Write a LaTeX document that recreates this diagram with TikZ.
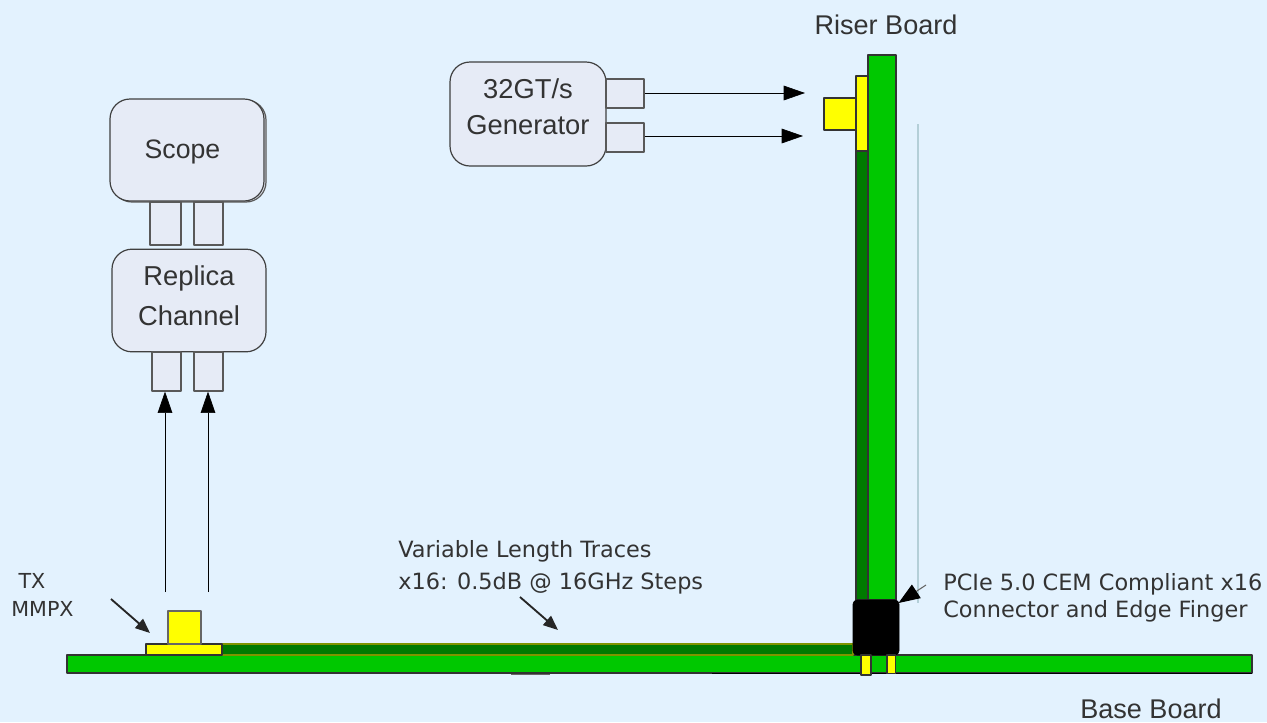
\documentclass[tikz,border=0pt]{standalone}
\usepackage{fontspec}
\setmainfont{Liberation Sans}
\newfontfamily\notefont{DejaVu Sans}
\usetikzlibrary{arrows.meta,positioning,calc}

\definecolor{bgblue}{HTML}{E3F2FE}
\definecolor{boxgray}{HTML}{E6EBF6}
\definecolor{boardgreen}{HTML}{00C800}
\definecolor{tracegreen}{HTML}{007A00}
\definecolor{traceedge}{HTML}{7F9400}
\definecolor{padyellow}{HTML}{FFFF00}
\definecolor{inkgray}{HTML}{333333}
\definecolor{thingray}{HTML}{B4CFD8}

\tikzset{
  instbox/.style={draw=black!75, fill=boxgray, rounded corners=15pt, line width=0.9pt, inner sep=0pt,
    align=center, text=inkgray, font=\fontsize{20.5}{30}\selectfont},
  portbox/.style={draw=black!65, fill=boxgray, line width=0.9pt, inner sep=0pt},
  boardpart/.style={draw=black!80, line width=0.8pt},
  bigtext/.style={text=inkgray, inner sep=0pt, font=\fontsize{20.3}{24}\selectfont},
  notetext/.style={text=inkgray, inner sep=0pt, align=left, font=\notefont\fontsize{16.8}{24}\selectfont},
  sidetext/.style={text=inkgray, inner sep=0pt, font=\notefont\fontsize{15.5}{20}\selectfont},
  sigline/.style={draw=black, line width=0.5pt, -{Triangle[length=16pt,width=11pt]}},
  pointer/.style={draw=black!85, line width=1.4pt, -{Triangle[length=11pt,width=9pt]}},
}

\begin{document}
\begin{tikzpicture}[x=0.75pt, y=-0.75pt, line join=round]
\useasboundingbox[fill=bgblue] (0,0) rectangle (1267,722);

% instruments
\draw[draw=black!65, fill=boxgray, rounded corners=15pt, line width=0.9pt] (112,100) rectangle (266,202);
\node[instbox, minimum width=115.5pt, minimum height=76.5pt] (scope) at (187,150) {};
\node[bigtext, font=\fontsize{20}{24}\selectfont] (scopetext) at (182.5,152) {Scope};
\node[instbox, minimum width=115.5pt, minimum height=77pt, text depth=8pt] (replica) at (189,300.5) {Replica\\Channel};
\node[instbox, minimum width=117pt, minimum height=78pt, text depth=10.5pt, font=\fontsize{20.5}{27}\selectfont] (generator) at (528,114) {32GT/s\\Generator};

% ports
\foreach \name/\x/\y/\w/\h in {scopea/165.5/223.5/31/43,scopeb/208.5/223.5/29/43,replicaa/166.5/371.5/29/39,replicab/208.5/371.5/29/39,gena/625/93.5/38/29,genb/625/137.5/38/29}{
  \node[portbox, minimum width=\w*0.75pt, minimum height=\h*0.75pt] (\name) at (\x,\y) {};
}

% boards
\draw[boardpart, fill=boardgreen] (67,655) rectangle (1252,673);
\draw[black, line width=1.4pt] (712,673.5) -- (1252,673.5);
\draw[black!60, line width=1.2pt] (511,674.5) -- (550,674.5);
\draw[draw=traceedge, fill=tracegreen, line width=1pt] (222,644) rectangle (853,655);
\draw[boardpart, fill=padyellow] (146,644) rectangle (222,655);
\draw[boardpart, draw=black!60, fill=padyellow] (168,611) rectangle (201,644);
\draw[boardpart, fill=tracegreen] (856,151) rectangle (868,600);
\draw[boardpart, fill=padyellow] (856,76) rectangle (868,151);
\draw[boardpart, fill=padyellow] (824,98) rectangle (856,130);
\draw[boardpart, fill=boardgreen] (868,55) rectangle (896,600);
\draw[thingray, line width=0.9pt] (918,124) -- (918,603);
\draw[black, fill=black, rounded corners=3pt] (853,600) rectangle (899,655);
\draw[boardpart, fill=padyellow] (861,655) rectangle (871,675);
\draw[boardpart, fill=padyellow] (887,655) rectangle (895.5,673.5);

% free ends of the connectors
\coordinate (gentipa) at (805,93);
\coordinate (gentipb) at (803,136);
\coordinate (tapa) at (165,592);
\coordinate (tapb) at (208,592);
\coordinate (txstart) at (111,599);
\coordinate (txtip) at (150,633);
\coordinate (tracestart) at (520,597);
\coordinate (tracetip) at (558,630);
\coordinate (cemstart) at (926,585);
\coordinate (cemtip) at (898.5,603);

\draw[sigline] (gena.east |- gentipa) -- (gentipa);
\draw[sigline] (genb.east |- gentipb) -- (gentipb);
\draw[sigline] (tapa) -- (tapa |- replicaa.south);
\draw[sigline] (tapb) -- (tapb |- replicab.south);
\draw[pointer] (txstart) -- (txtip);
\draw[pointer] (tracestart) -- (tracetip);
\draw[draw=black!60, line width=0.8pt, -{Triangle[length=16pt,width=12pt,color=black]}] (cemstart) -- (cemtip);

% labels
\node[bigtext] (riserlabel) at (886,25) {Riser Board};
\node[bigtext] (baselabel) at (1151,709) {Base Board};
\node[sidetext] (txlabel) at (32,581) {TX};
\node[sidetext] (mmpxlabel) at (42.5,609) {MMPX};
\node[notetext, anchor=west] (tracelabel) at (398,567.5) {Variable Length Traces\\x16: 0.5dB @ 16GHz Steps};
\node[notetext, anchor=west, font=\notefont\fontsize{16.8}{20.25}\selectfont] (cemlabel) at (943,598) {PCIe 5.0 CEM Compliant x16\\Connector and Edge Finger};
\end{tikzpicture}
\end{document}
